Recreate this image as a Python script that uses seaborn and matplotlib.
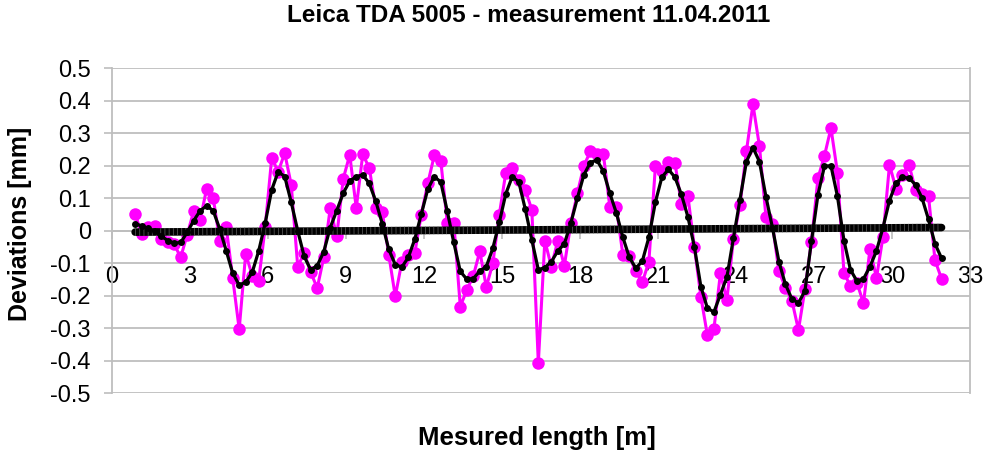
import numpy as np
import pandas as pd
import matplotlib
matplotlib.use("Agg")
import matplotlib.pyplot as plt
import seaborn as sns

# ---------------- data ----------------
positions = [
    0.9, 1.15, 1.4, 1.65, 1.9, 2.15, 2.4, 2.65, 2.9, 3.15,
    3.4, 3.65, 3.9, 4.15, 4.4, 4.65, 4.9, 5.15, 5.4, 5.65,
    5.9, 6.15, 6.4, 6.65, 6.9, 7.15, 7.4, 7.65, 7.9, 8.15,
    8.4, 8.65, 8.9, 9.15, 9.4, 9.65, 9.9, 10.15, 10.4, 10.65,
    10.9, 11.15, 11.4, 11.65, 11.9, 12.15, 12.4, 12.65, 12.9, 13.15,
    13.4, 13.65, 13.9, 14.15, 14.4, 14.65, 14.9, 15.15, 15.4, 15.65,
    15.9, 16.15, 16.4, 16.65, 16.9, 17.15, 17.4, 17.65, 17.9, 18.15,
    18.4, 18.65, 18.9, 19.15, 19.4, 19.65, 19.9, 20.15, 20.4, 20.65,
    20.9, 21.15, 21.4, 21.65, 21.9, 22.15, 22.4, 22.65, 22.9, 23.15,
    23.4, 23.65, 23.9, 24.15, 24.4, 24.65, 24.9, 25.15, 25.4, 25.65,
    25.9, 26.15, 26.4, 26.65, 26.9, 27.15, 27.4, 27.65, 27.9, 28.15,
    28.4, 28.65, 28.9, 29.15, 29.4, 29.65, 29.9, 30.15, 30.4, 30.65,
    30.9, 31.15, 31.4, 31.65, 31.9,
]

measured = [
    0.052, -0.011, 0.013, 0.016, -0.025, -0.035, -0.041, -0.082, -0.012, 0.060,
    0.034, 0.130, 0.102, -0.030, 0.012, -0.145, -0.303, -0.070, -0.138, -0.153,
    0.012, 0.224, 0.182, 0.239, 0.142, -0.110, -0.068, -0.128, -0.176, -0.082,
    0.070, -0.017, 0.160, 0.234, 0.070, 0.235, 0.194, 0.070, 0.057, -0.073,
    -0.202, -0.097, -0.075, -0.068, 0.049, 0.146, 0.232, 0.215, 0.025, 0.024,
    -0.233, -0.182, -0.139, -0.063, -0.173, -0.100, 0.050, 0.179, 0.193, 0.155,
    0.126, 0.065, -0.407, -0.030, -0.110, -0.030, -0.108, 0.024, 0.115, 0.200,
    0.244, 0.236, 0.236, 0.072, 0.073, -0.074, -0.079, -0.125, -0.158, -0.095,
    0.198, 0.183, 0.213, 0.210, 0.082, 0.107, -0.051, -0.203, -0.322, -0.302,
    -0.131, -0.213, -0.025, 0.078, 0.245, 0.389, 0.261, 0.043, 0.020, -0.125,
    -0.175, -0.215, -0.305, -0.180, -0.034, 0.162, 0.231, 0.316, 0.179, -0.130,
    -0.170, -0.160, -0.223, -0.056, -0.145, -0.018, 0.203, 0.130, 0.172, 0.203,
    0.126, 0.112, 0.107, -0.091, -0.147,
]

fitted = [
    0.022, 0.015, 0.008, -0.001, -0.016, -0.030, -0.038, -0.036, -0.005, 0.031,
    0.062, 0.077, 0.062, 0.006, -0.061, -0.130, -0.167, -0.158, -0.128, -0.062,
    0.024, 0.126, 0.182, 0.167, 0.088, 0.000, -0.079, -0.120, -0.107, -0.065,
    0.010, 0.062, 0.116, 0.153, 0.167, 0.172, 0.146, 0.091, 0.022, -0.057,
    -0.104, -0.112, -0.082, -0.026, 0.051, 0.128, 0.167, 0.150, 0.060, -0.036,
    -0.125, -0.149, -0.147, -0.124, -0.110, -0.054, 0.026, 0.114, 0.167, 0.150,
    0.066, -0.028, -0.120, -0.113, -0.095, -0.062, -0.040, 0.024, 0.100, 0.172,
    0.210, 0.218, 0.183, 0.115, 0.055, -0.020, -0.082, -0.115, -0.093, -0.020,
    0.088, 0.165, 0.189, 0.165, 0.112, 0.043, -0.050, -0.172, -0.238, -0.250,
    -0.196, -0.142, -0.023, 0.095, 0.213, 0.256, 0.213, 0.105, 0.010, -0.095,
    -0.165, -0.210, -0.222, -0.185, -0.032, 0.111, 0.199, 0.200, 0.106, -0.030,
    -0.120, -0.155, -0.148, -0.110, -0.062, 0.010, 0.093, 0.147, 0.165, 0.162,
    0.142, 0.101, 0.035, -0.040, -0.084,
]

trend_x = [0.9, 31.9]
trend_y = [-0.004, 0.010]

x_ticks = [0, 3, 6, 9, 12, 15, 18, 21, 24, 27, 30, 33]
y_ticks = [-0.5, -0.4, -0.3, -0.2, -0.1, 0.0, 0.1, 0.2, 0.3, 0.4, 0.5]
y_tick_labels = ["-0.5", "-0.4", "-0.3", "-0.2", "-0.1", "0",
                 "0.1", "0.2", "0.3", "0.4", "0.5"]

title = "Leica TDA 5005 - measurement 11.04.2011"
x_label = "Mesured length [m]"
y_label = "Deviations [mm]"

# ---------------- style ----------------
sns.set_style("white")
plt.rcParams["font.family"] = ["Liberation Sans", "DejaVu Sans"]
plt.rcParams["text.color"] = "black"
plt.rcParams["axes.labelcolor"] = "black"
plt.rcParams["xtick.labelcolor"] = "black"
plt.rcParams["ytick.labelcolor"] = "black"

fig = plt.figure(figsize=(9.95, 4.55), dpi=100)
ax = fig.add_axes([0.1123, 0.1356, 0.8627, 0.7143])

df = pd.DataFrame({"x": positions, "measured": measured, "fit": fitted})
trend_df = pd.DataFrame({"x": trend_x, "y": trend_y})

grid_col = "#BEBEBE"

sns.lineplot(data=df, x="x", y="measured", ax=ax, color="#FF00FF",
             linewidth=2.2, marker="o", markersize=9, markeredgewidth=0,
             sort=False, zorder=3)
sns.lineplot(data=trend_df, x="x", y="y", ax=ax, color="black",
             linewidth=5.5, sort=False, zorder=4)
ax.plot(trend_x, trend_y, color="#5a5a5a", linewidth=5.5,
        dashes=(0.1, 0.45), zorder=4.5, solid_capstyle="butt")
sns.lineplot(data=df, x="x", y="fit", ax=ax, color="black",
             linewidth=2.3, marker="o", markersize=5, markeredgewidth=0,
             sort=False, zorder=5)

ax.set_xlim(0, 33)
ax.set_ylim(-0.5, 0.5)
ax.set_xticks(x_ticks)
ax.set_xticklabels([str(t) for t in x_ticks])
ax.set_yticks(y_ticks)
ax.set_yticklabels(y_tick_labels)

ax.yaxis.grid(True, color=grid_col, linewidth=1.3, zorder=0)
ax.xaxis.grid(False)
ax.set_axisbelow(True)

for side in ["left", "right", "bottom"]:
    ax.spines[side].set_visible(True)
    ax.spines[side].set_color(grid_col)
    ax.spines[side].set_linewidth(1.3)
ax.spines["top"].set_visible(False)
ax.spines["bottom"].set_position(("data", 0))

ax.tick_params(axis="x", direction="out", length=6, width=1.2,
               color=grid_col, pad=19, labelsize=17, bottom=True,
               labelcolor="black")
ax.tick_params(axis="y", direction="out", length=6, width=1.2,
               color=grid_col, pad=9, labelsize=17, left=True,
               labelcolor="black")

ax.set_xlabel(x_label, fontsize=18.5, fontweight="bold", color="black")
ax.xaxis.set_label_coords(0.4955, -0.1375)
ax.xaxis.label.set_va("center")
ax.set_ylabel(y_label, fontsize=18, fontweight="bold", color="black")
ax.yaxis.set_label_coords(-0.107, 0.521)
ax.yaxis.label.set_va("center")

fig.text(529 / 995, 1 - 16 / 455, title, ha="center", va="center",
         fontsize=17.5, fontweight="bold", color="black")

fig.savefig("out.png", dpi=100)
